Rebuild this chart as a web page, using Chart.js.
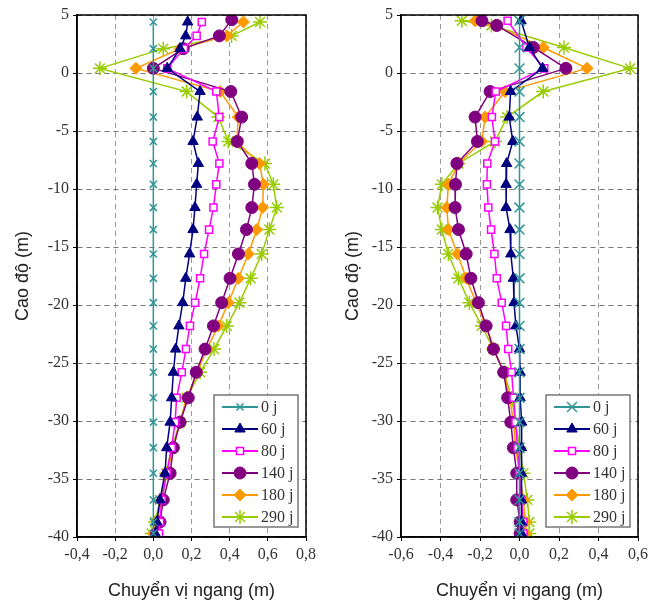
<!DOCTYPE html>
<html>
<head>
<meta charset="utf-8">
<script src="https://cdn.jsdelivr.net/npm/chart.js@4.4.0/dist/chart.umd.min.js"></script>
<style>
    html, body { margin: 0; padding: 0; background: #fff; }
    .wrap { position: absolute; top: 0; height: 602px; }
    #left { left: 0; width: 330px; }
    #right { left: 330px; width: 331px; }
</style>
</head>
<body>
<div class="wrap" id="left"><canvas id="chartLeft"></canvas></div>
<div class="wrap" id="right"><canvas id="chartRight"></canvas></div>
<script>
// Series labels (time steps)
const seriesLabels = ['0 j', '60 j', '80 j', '140 j', '180 j', '290 j'];

// Left panel: depths (m) and horizontal displacement (m)
const depthLeft = [4.6, 4.4, 3.2, 2.1, 0.4, -1.6, -3.8, -5.9, -7.8, -9.6, -11.6, -13.5, -15.6, -17.7, -19.8, -21.8, -23.8, -25.8, -28.0, -30.1, -32.3, -34.5, -36.8, -38.7, -39.7];
const left0j   = [null, 0, null, 0, 0, 0, 0, 0, 0, 0, 0, 0, 0, 0, 0, 0, 0, 0, 0, 0, 0, 0, 0, 0, 0];
const left60j  = [null, 0.18, 0.17, 0.14, 0.073, 0.245, 0.23, 0.208, 0.236, 0.227, 0.218, 0.208, 0.19, 0.17, 0.154, 0.134, 0.117, 0.105, 0.096, 0.088, 0.07, 0.061, 0.035, 0.018, 0.01];
const left80j  = [null, 0.254, 0.227, 0.16, 0.073, 0.33, 0.346, 0.311, 0.346, 0.33, 0.315, 0.292, 0.266, 0.245, 0.219, 0.192, 0.171, 0.149, 0.122, 0.114, 0.096, 0.07, 0.044, 0.035, 0.03];
const left140j = [0.411, null, 0.346, 0.157, 0.0, 0.406, 0.463, 0.44, 0.516, 0.53, 0.516, 0.488, 0.446, 0.402, 0.358, 0.315, 0.271, 0.225, 0.183, 0.14, 0.105, 0.088, 0.052, 0.035, 0.018];
const left180j = [null, 0.472, 0.385, 0.14, -0.091, 0.35, 0.445, 0.437, 0.556, 0.577, 0.573, 0.542, 0.498, 0.446, 0.393, 0.341, 0.28, 0.231, 0.175, 0.14, 0.105, 0.07, 0.044, 0.018, 0.0];
const left290j = [null, 0.559, 0.41, 0.052, -0.28, 0.175, 0.34, 0.393, 0.585, 0.629, 0.647, 0.608, 0.568, 0.51, 0.451, 0.385, 0.318, 0.245, 0.175, 0.14, 0.096, 0.067, 0.035, 0.009, -0.008];

// Right panel
const depthRight = [4.5, 4.1, 2.2, 0.4, -1.6, -3.8, -5.9, -7.8, -9.6, -11.6, -13.5, -15.6, -17.7, -19.8, -21.8, -23.8, -25.8, -28.0, -30.1, -32.3, -34.5, -36.8, -38.7, -39.7];
const right0j   = [0, null, 0, 0, 0, 0, 0, 0, 0, 0, 0, 0, 0, 0, 0, 0, 0, 0, 0, 0, 0, 0, 0, 0];
const right60j  = [0.008, null, 0.05, 0.117, -0.045, -0.052, -0.034, -0.065, -0.068, -0.068, -0.048, -0.044, -0.031, -0.028, -0.018, 0.0, 0.003, 0.003, 0.011, 0.01, 0.01, 0.01, 0.01, 0.01];
const right80j  = [-0.06, null, 0.035, 0.125, -0.12, -0.14, -0.124, -0.163, -0.165, -0.158, -0.144, -0.127, -0.115, -0.09, -0.068, -0.057, -0.04, -0.03, -0.02, -0.01, 0.0, 0.01, 0.02, 0.02];
const right140j = [-0.19, -0.115, 0.07, 0.235, -0.149, -0.225, -0.213, -0.317, -0.324, -0.326, -0.309, -0.27, -0.246, -0.208, -0.169, -0.132, -0.08, -0.06, -0.044, -0.031, -0.014, -0.014, 0.003, 0.003];
const right180j = [-0.225, -0.124, 0.12, 0.342, -0.073, -0.174, -0.191, -0.309, -0.36, -0.368, -0.36, -0.314, -0.27, -0.22, -0.169, -0.129, -0.08, -0.05, -0.03, -0.02, 0.0, 0.02, 0.03, 0.03];
const right290j = [-0.292, -0.142, 0.225, 0.56, 0.12, -0.063, -0.124, -0.309, -0.393, -0.415, -0.393, -0.36, -0.309, -0.254, -0.191, -0.132, -0.078, -0.04, -0.02, 0.0, 0.02, 0.04, 0.05, 0.05];

// Styles
const seriesColors = ['#2f9595', '#000080', '#ff00ff', '#800080', '#ff9900', '#99cc00'];
const seriesFills  = ['#2f9595', '#000080', '#ffffff', '#800080', '#ff9900', '#99cc00'];
const seriesShapes = ['crossRot', 'triangle', 'rect', 'circle', 'rectRot', 'star'];
const seriesRadius = [5, 6, 5, 6, 6, 7];

function toPoints(depths, values) {
    return depths
        .map((d, i) => ({ x: values[i], y: d }))
        .filter(p => p.x !== null);
}

function fmt(v) {
    if (Math.abs(v) < 1e-9) v = 0;
    return v.toFixed(1).replace('.', ',');
}

// frame around the plot area
const framePlugin = {
    id: 'frame',
    afterDatasetsDraw(chart) {
        const a = chart.chartArea;
        const ctx = chart.ctx;
        ctx.save();
        ctx.strokeStyle = '#000';
        ctx.lineWidth = 1.5;
        ctx.strokeRect(a.left, a.top, a.right - a.left, a.bottom - a.top);
        ctx.restore();
    }
};

// boxed legend inside the bottom right corner
const boxLegend = {
    id: 'boxLegend',
    afterDraw(chart) {
        const a = chart.chartArea;
        const ctx = chart.ctx;
        const w = 84, h = 132;
        const x0 = a.right - 8 - w;
        const y0 = a.bottom - 10 - h;
        ctx.save();
        ctx.fillStyle = '#fff';
        ctx.fillRect(x0, y0, w, h);
        ctx.strokeStyle = '#777';
        ctx.lineWidth = 1.5;
        ctx.strokeRect(x0, y0, w, h);
        chart.data.datasets.forEach((ds, i) => {
            const y = y0 + 12 + i * 22;
            ctx.strokeStyle = ds.borderColor;
            ctx.lineWidth = 2;
            ctx.beginPath();
            ctx.moveTo(x0 + 8, y);
            ctx.lineTo(x0 + 44, y);
            ctx.stroke();
            ctx.fillStyle = ds.pointBackgroundColor;
            ctx.strokeStyle = ds.borderColor;
            ctx.lineWidth = ds.pointBorderWidth;
            Chart.helpers.drawPoint(ctx, {
                pointStyle: ds.pointStyle,
                radius: ds.pointRadius,
                rotation: 0,
                borderWidth: ds.pointBorderWidth
            }, x0 + 26, y);
            ctx.fillStyle = '#333';
            ctx.font = '16px "Liberation Serif"';
            ctx.textBaseline = 'middle';
            ctx.fillText(ds.label, x0 + 47, y + 1);
        });
        ctx.restore();
    }
};

function makeChart(canvasId, depths, seriesValues, xMin, xMax, yWidth, padRight, crossRadius) {
    const datasets = seriesValues.map((vals, i) => ({
        label: seriesLabels[i],
        data: toPoints(depths, vals),
        showLine: true,
        borderColor: seriesColors[i],
        backgroundColor: seriesFills[i],
        pointBackgroundColor: seriesFills[i],
        pointBorderColor: seriesColors[i],
        pointStyle: seriesShapes[i],
        pointRadius: i === 0 ? crossRadius : seriesRadius[i],
        pointBorderWidth: (i === 0 || i === 5 || i === 2) ? 1.5 : 1,
        borderWidth: 1.5,
        tension: 0
    }));

    return new Chart(document.getElementById(canvasId), {
        type: 'scatter',
        data: { datasets: datasets },
        options: {
            responsive: true,
            maintainAspectRatio: false,
            animation: false,
            layout: { padding: { top: 15, right: padRight, bottom: 0, left: 0 } },
            plugins: {
                legend: { display: false },
                tooltip: { enabled: false }
            },
            scales: {
                x: {
                    type: 'linear',
                    min: xMin,
                    max: xMax,
                    afterFit: function(scale) { scale.height = 65; },
                    ticks: {
                        stepSize: 0.2,
                        padding: 4,
                        color: '#333',
                        font: { family: 'Liberation Serif', size: 16 },
                        callback: function(v) { return fmt(v); }
                    },
                    grid: {
                        color: '#9a9a9a',
                        borderDash: [5, 4],
                        tickLength: 4,
                        tickColor: '#000',
                        tickBorderDash: [],
                        lineWidth: 1
                    },
                    border: { display: true, color: '#000', width: 1.5, dash: [5, 4] },
                    title: {
                        display: true,
                        text: 'Chuyển vị ngang (m)',
                        color: '#222',
                        font: { family: 'Liberation Sans', size: 18 },
                        padding: { top: 7, bottom: 0 }
                    }
                },
                y: {
                    type: 'linear',
                    min: -40,
                    max: 5,
                    afterFit: function(scale) { scale.width = yWidth; },
                    ticks: {
                        stepSize: 5,
                        padding: 4,
                        color: '#333',
                        font: { family: 'Liberation Serif', size: 16 }
                    },
                    grid: {
                        color: '#777',
                        borderDash: [5, 4],
                        tickLength: 4,
                        tickColor: '#000',
                        tickBorderDash: [],
                        lineWidth: 1
                    },
                    border: { display: true, color: '#000', width: 1.5, dash: [5, 4] },
                    title: {
                        display: true,
                        text: 'Cao độ (m)',
                        color: '#222',
                        font: { family: 'Liberation Sans', size: 18 },
                        padding: { top: 12, bottom: 6 }
                    }
                }
            }
        },
        plugins: [framePlugin, boxLegend]
    });
}

makeChart('chartLeft', depthLeft,
    [left0j, left60j, left80j, left140j, left180j, left290j],
    -0.4, 0.8, 77, 24, 5);

makeChart('chartRight', depthRight,
    [right0j, right60j, right80j, right140j, right180j, right290j],
    -0.6, 0.6, 71, 23, 7);
</script>
</body>
</html>
